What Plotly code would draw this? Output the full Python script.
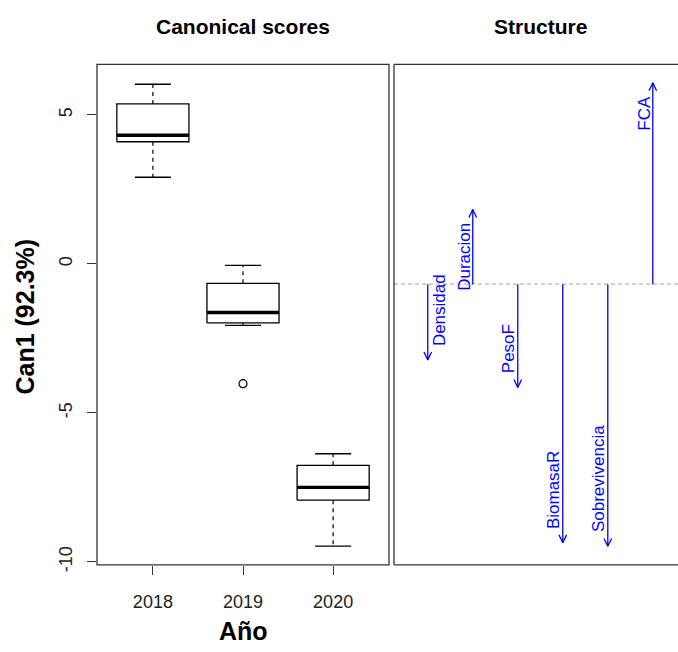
import plotly.graph_objects as go

# ---------------- data ----------------
years = ["2018", "2019", "2020"]
whisker_low = [2.91, -2.06, -9.47]
q1 = [4.10, -1.98, -7.93]
medians = [4.32, -1.63, -7.50]
q3 = [5.37, -0.65, -6.76]
whisker_high = [6.03, -0.05, -6.37]
outlier_year = ["2019"]
outlier_value = [-4.02]

variables = ["Densidad", "Duracion", "PesoF", "BiomasaR", "Sobrevivencia", "FCA"]
structure = [-0.280, 0.276, -0.382, -0.957, -0.970, 0.745]

y_ticks = [-10, -5, 0, 5]

# ---------------- layout constants (pixels) ----------------
W, H = 678, 652
TOP, BOTTOM = 65, 571
L1, R1 = 97, 389
L2 = 394
FONT = "Liberation Sans, Arial, sans-serif"
FRAME = "#333333"
BLUE = "#0000FF"

def px(xp):
    return xp / W

def py(yp):
    return 1 - yp / H

x1_range = [0.38, 3.62]
y1_range = [-10.1, 6.7]
x2_range = [0.25, 6.56]
s_lo, s_hi = min(structure), max(structure)
pad = 0.04 * (s_hi - s_lo)
y2_range = [s_lo - pad, s_hi + pad]

fig = go.Figure()

# ---------------- boxplots ----------------
pos = {y: i + 1 for i, y in enumerate(years)}
bw = 0.4   # half box width
cw = 0.2   # half cap width
bx, by, mx, my, wx, wy, cx, cy = [], [], [], [], [], [], [], []
for i, yr in enumerate(years):
    p = pos[yr]
    bx += [p - bw, p + bw, p + bw, p - bw, p - bw, None]
    by += [q1[i], q1[i], q3[i], q3[i], q1[i], None]
    mx += [p - bw, p + bw, None]
    my += [medians[i], medians[i], None]
    wx += [p, p, None, p, p, None]
    wy += [q3[i], whisker_high[i], None, q1[i], whisker_low[i], None]
    cx += [p - cw, p + cw, None, p - cw, p + cw, None]
    cy += [whisker_high[i], whisker_high[i], None, whisker_low[i], whisker_low[i], None]

fig.add_trace(go.Scatter(x=wx, y=wy, mode="lines", line=dict(color="black", width=1.2, dash="4px,4px"),
                         xaxis="x", yaxis="y", hoverinfo="skip"))
fig.add_trace(go.Scatter(x=cx, y=cy, mode="lines", line=dict(color="black", width=1.3),
                         xaxis="x", yaxis="y", hoverinfo="skip"))
fig.add_trace(go.Scatter(x=bx, y=by, mode="lines", line=dict(color="black", width=1.3),
                         fill="toself", fillcolor="white", xaxis="x", yaxis="y", hoverinfo="skip"))
fig.add_trace(go.Scatter(x=mx, y=my, mode="lines", line=dict(color="black", width=3.4),
                         xaxis="x", yaxis="y", hoverinfo="skip"))
fig.add_trace(go.Scatter(x=[pos[y] for y in outlier_year], y=outlier_value, mode="markers",
                         marker=dict(symbol="circle-open", size=8, color="black", line=dict(width=1.2)),
                         xaxis="x", yaxis="y", hoverinfo="skip"))

# ---------------- structure arrows ----------------
ppu_x = (W - L2) / (x2_range[1] - x2_range[0])
ppu_y = (BOTTOM - TOP) / (y2_range[1] - y2_range[0])
head_len = 8 / ppu_y
head_half = 3.8 / ppu_x

fig.add_trace(go.Scatter(x=[x2_range[0], x2_range[1]], y=[0, 0], mode="lines",
                         line=dict(color="#b4b4b4", width=1.2, dash="4px,3px"),
                         xaxis="x2", yaxis="y2", hoverinfo="skip"))
ax_, ay_ = [], []
for i, v in enumerate(variables):
    xv = i + 1
    s = structure[i]
    sign = 1 if s > 0 else -1
    ax_ += [xv, xv, None]
    ay_ += [0, s, None]
    ax_ += [xv - head_half, xv, xv + head_half, None]
    ay_ += [s - sign * head_len, s, s - sign * head_len, None]
fig.add_trace(go.Scatter(x=ax_, y=ay_, mode="lines", line=dict(color=BLUE, width=1.3),
                         xaxis="x2", yaxis="y2", hoverinfo="skip"))

annotations = []
for i, v in enumerate(variables):
    xv = i + 1
    s = structure[i]
    right_side = (v == "Densidad")
    if s > 0:
        yanchor, yshift = "top", -11
    else:
        yanchor, yshift = "bottom", 12
    annotations.append(dict(
        x=xv, y=s, xref="x2", yref="y2", text=v, showarrow=False, textangle=-90,
        xanchor="left" if right_side else "right", yanchor=yanchor,
        xshift=1 if right_side else 3, yshift=yshift,
        font=dict(family=FONT, size=17, color=BLUE)))

# titles
annotations.append(dict(x=px((L1 + R1) / 2), y=py(27), xref="paper", yref="paper",
                        text="<b>Canonical scores</b>", showarrow=False, xanchor="center", yanchor="middle",
                        font=dict(family=FONT, size=21, color="black")))
annotations.append(dict(x=px(540), y=py(27), xref="paper", yref="paper",
                        text="<b>Structure</b>", showarrow=False, xanchor="center", yanchor="middle",
                        font=dict(family=FONT, size=21, color="black")))
annotations.append(dict(x=px(243), y=py(638), xref="paper", yref="paper",
                        text="<b>Año</b>", showarrow=False, xanchor="center", yanchor="middle",
                        font=dict(family=FONT, size=25, color="black")))
annotations.append(dict(x=px(25), y=py(320), xref="paper", yref="paper",
                        text="<b>Can1 (92.3%)</b>", showarrow=False, textangle=-90,
                        xanchor="center", yanchor="middle",
                        font=dict(family=FONT, size=25, color="black")))

# frames
shapes = [
    dict(type="rect", xref="paper", yref="paper", x0=px(L1), x1=px(R1), y0=py(BOTTOM), y1=py(TOP),
         line=dict(color=FRAME, width=1.3)),
    dict(type="line", xref="paper", yref="paper", x0=px(L2), x1=1.0, y0=py(TOP), y1=py(TOP),
         line=dict(color=FRAME, width=1.3)),
    dict(type="line", xref="paper", yref="paper", x0=px(L2), x1=1.0, y0=py(BOTTOM), y1=py(BOTTOM),
         line=dict(color=FRAME, width=1.3)),
    dict(type="line", xref="paper", yref="paper", x0=px(L2), x1=px(L2), y0=py(BOTTOM), y1=py(TOP),
         line=dict(color=FRAME, width=1.3)),
]

tickfont = dict(family=FONT, size=18, color="#222222")
fig.update_layout(
    width=W, height=H, margin=dict(l=0, r=0, t=0, b=0),
    paper_bgcolor="white", plot_bgcolor="white", showlegend=False,
    xaxis=dict(domain=[px(L1), px(R1)], range=x1_range, tickvals=[pos[y] for y in years], ticktext=years,
               ticks="outside", ticklen=9, tickwidth=1.2, tickcolor=FRAME, showgrid=False, zeroline=False,
               showline=False, tickfont=tickfont, ticklabelstandoff=12, fixedrange=True),
    yaxis=dict(domain=[py(BOTTOM), py(TOP)], range=y1_range, tickvals=y_ticks, ticktext=[str(t) for t in y_ticks],
               ticks="outside", ticklen=9, tickwidth=1.2, tickcolor=FRAME, showgrid=False, zeroline=False,
               showline=False, tickangle=-90, tickfont=tickfont, ticklabelstandoff=8, fixedrange=True),
    xaxis2=dict(domain=[px(L2), 1], range=x2_range, anchor="y2", visible=False, fixedrange=True),
    yaxis2=dict(domain=[py(BOTTOM), py(TOP)], range=y2_range, anchor="x2", visible=False, fixedrange=True),
    annotations=annotations, shapes=shapes,
)

css_js = (
    "var st=document.createElement('style');"
    "st.innerHTML='html,body{margin:0;padding:0;overflow:hidden;height:652px;}';"
    "document.head.appendChild(st);"
)
fig.write_html("out.html", config={"displayModeBar": False}, post_script=css_js)
